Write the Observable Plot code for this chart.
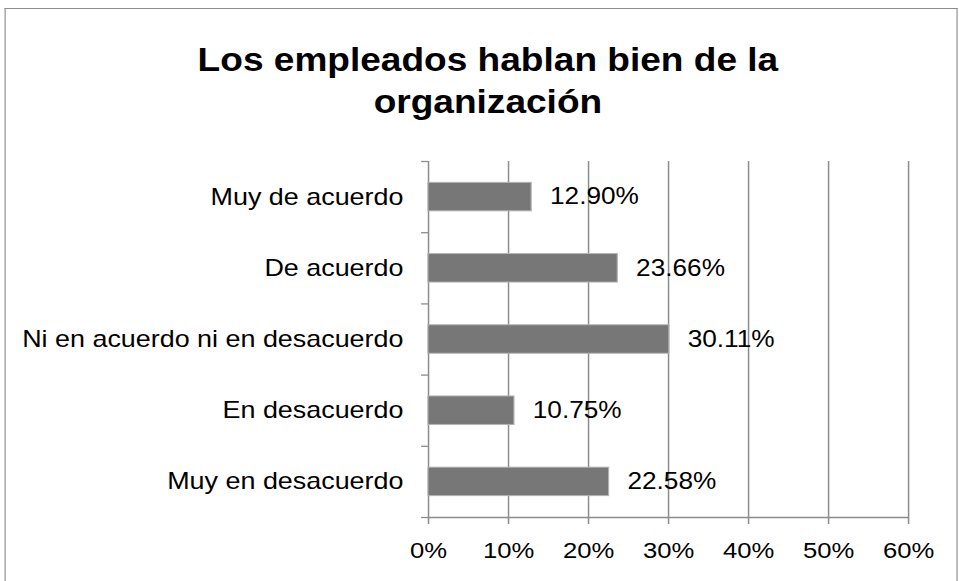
<!DOCTYPE html>
<html>
<head>
<meta charset="utf-8">
<script src="https://cdn.jsdelivr.net/npm/d3@7"></script>
<script src="https://cdn.jsdelivr.net/npm/@observablehq/plot@0.6"></script>
<style>
  html, body { margin: 0; padding: 0; background: #fff; overflow: hidden; }
  #wrap { position: absolute; left: 0; top: 0; width: 841px; height: 581px;
          transform: scaleX(1.14); transform-origin: 0 0;
          font-family: "Liberation Sans", Arial, sans-serif; }
  #frame { position: absolute; left: 3.5px; top: 8px; width: 836px; height: 700px;
           border: 1.5px solid #8c8c8c; border-bottom: none; box-sizing: border-box; }
  #title { position: relative; width: 841px; height: 140px; box-sizing: border-box;
           padding-top: 39px; padding-left: 15px; text-align: center;
           font-weight: 700; font-size: 32.5px; line-height: 42px; color: #000; }
  #chart { position: relative; }
</style>
</head>
<body>
<div id="wrap">
  <div id="frame"></div>
  <div id="title">Los empleados hablan bien de la<br>organización</div>
  <div id="chart"></div>
</div>
<script>
const categories = ["Muy de acuerdo", "De acuerdo", "Ni en acuerdo ni en desacuerdo", "En desacuerdo", "Muy en desacuerdo"];
const values = [12.90, 23.66, 30.11, 10.75, 22.58];
const xTicks = [0, 10, 20, 30, 40, 50, 60];

const data = categories.map((c, i) => ({cat: c, v: values[i], i}));
const boundaries = d3.range(0, categories.length + 1);
const centers = categories.map((c, i) => i + 0.5);
const grey = "#8c8c8c";

const chart = Plot.plot({
  width: 841,
  height: 441,
  marginTop: 21,
  marginBottom: 64,
  marginLeft: 375.4,
  marginRight: 44.5,
  style: {fontFamily: '"Liberation Sans", Arial, sans-serif', fontSize: "23px", color: "#000", background: "transparent", overflow: "visible"},
  x: {domain: [0, 60]},
  y: {domain: [0, categories.length], reverse: true},
  marks: [
    Plot.ruleX(xTicks, {stroke: grey, strokeWidth: 1.3}),
    Plot.ruleY([categories.length], {stroke: grey, strokeWidth: 1.6}),
    Plot.rectX(data, {x1: 0, x2: "v", y1: d => d.i + 0.3, y2: d => d.i + 0.7, fill: "#777777", stroke: "#b3b3b3", strokeWidth: 1}),
    Plot.text(data, {x: "v", y: d => d.i + 0.5, text: d => d.v.toFixed(2) + "%", textAnchor: "start", dx: 16, fontSize: 23, fill: "#000"}),
    Plot.axisX({ticks: xTicks, tickSize: 7, tickPadding: 18, tickFormat: d => d + "%", stroke: grey, strokeWidth: 1.3, fontSize: 22.5, label: null}),
    Plot.axisY({ticks: boundaries, tickSize: 6, tickFormat: () => "", stroke: grey, strokeWidth: 1.3, label: null}),
    Plot.axisY({ticks: centers, tickSize: 0, tickPadding: 22, tickFormat: d => categories[Math.floor(d)], fontSize: 23.6, label: null})
  ]
});
document.getElementById("chart").appendChild(chart);
</script>
</body>
</html>
